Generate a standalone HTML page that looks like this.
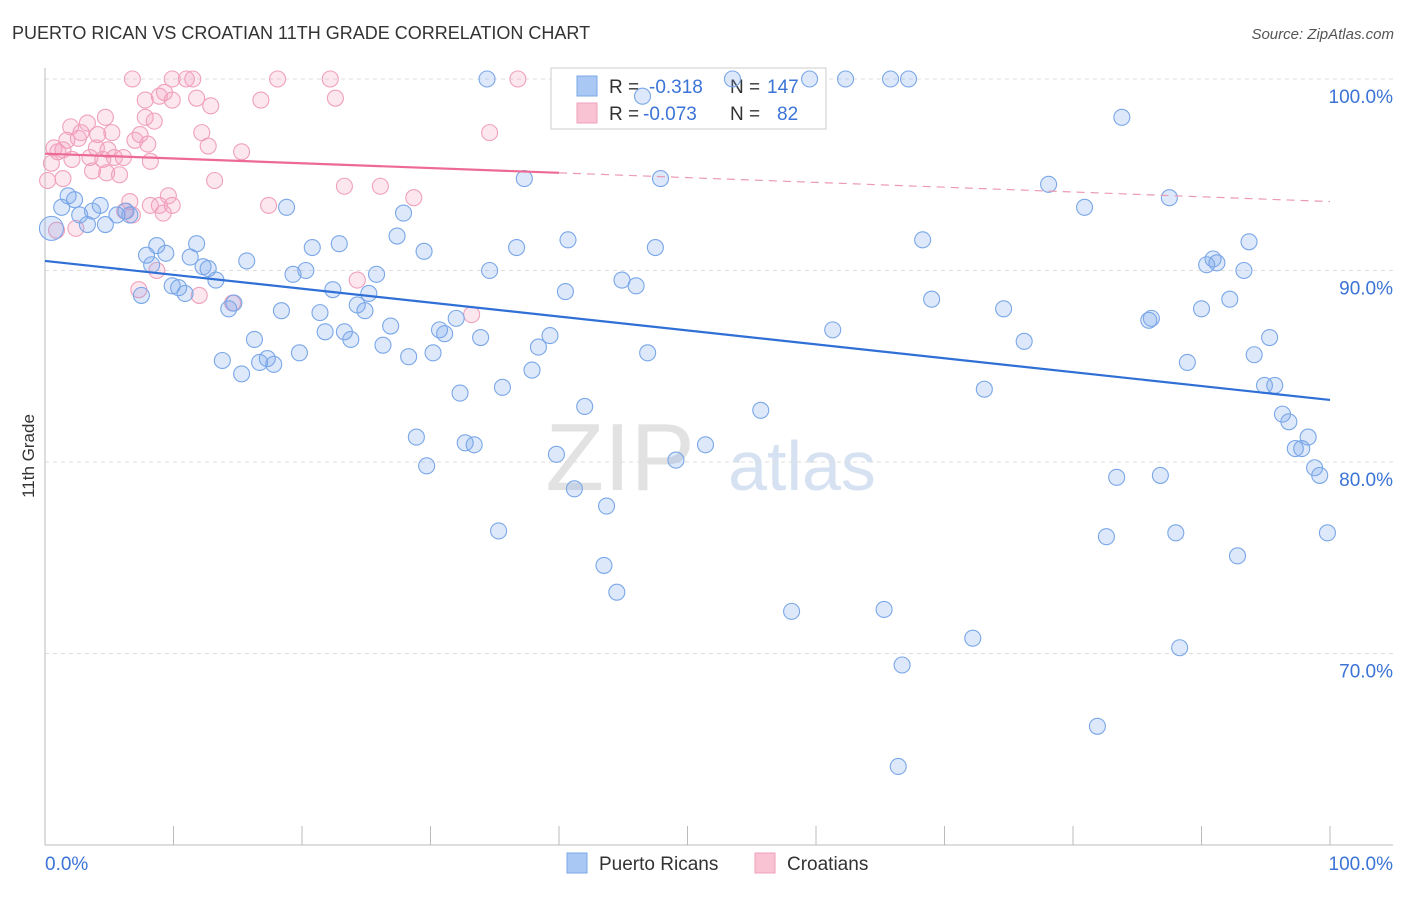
<!DOCTYPE html>
<html><head><meta charset="utf-8">
<style>
body{margin:0;background:#fff;font-family:"Liberation Sans",sans-serif;}
svg text{font-family:"Liberation Sans",sans-serif;}
</style></head>
<body>
<svg id="chart" width="1406" height="892" xmlns="http://www.w3.org/2000/svg">
<text x="12" y="39" font-size="18" fill="#333">PUERTO RICAN VS CROATIAN 11TH GRADE CORRELATION CHART</text>
<text x="1394" y="39" font-size="15" fill="#555" text-anchor="end" font-style="italic">Source: ZipAtlas.com</text>
<text transform="translate(34,456) rotate(-90)" font-size="17" fill="#333" text-anchor="middle">11th Grade</text>
<g>
<text x="620" y="490" font-size="96" fill="#e2e2e2" font-family="Liberation Serif" text-anchor="middle">ZIP</text>
<text x="802" y="490" font-size="70" fill="#d6e2f2" text-anchor="middle">atlas</text>
</g>
<g id="grid"></g>
<g id="axes"></g>
<g>
<rect x="551" y="68" width="275" height="61" fill="#fff" stroke="#ccc"/>
<rect x="577" y="76" width="20" height="20" fill="#aac8f4" stroke="#7aa7e8"/>
<rect x="577" y="103" width="20" height="20" fill="#f9c3d4" stroke="#f0a0bb"/>
<text x="609" y="93" font-size="19" fill="#333">R =</text>
<text x="649" y="93" font-size="19" fill="#3b73d6">-0.318</text>
<text x="730" y="93" font-size="19" fill="#333">N =</text>
<text x="767" y="93" font-size="19" fill="#3b73d6">147</text>
<text x="609" y="120" font-size="19" fill="#333">R =</text>
<text x="643" y="120" font-size="19" fill="#3b73d6">-0.073</text>
<text x="730" y="120" font-size="19" fill="#333">N =</text>
<text x="777" y="120" font-size="19" fill="#3b73d6">82</text>
</g>
<g id="points"></g>
<g id="trends"></g>
<g>
<rect x="567" y="853" width="20" height="20" fill="#aac8f4" stroke="#7aa7e8"/>
<text x="599" y="870" font-size="19" fill="#333">Puerto Ricans</text>
<rect x="755" y="853" width="20" height="20" fill="#f9c3d4" stroke="#f0a0bb"/>
<text x="787" y="870" font-size="19" fill="#333">Croatians</text>
</g>
</svg>
<script>
const yTicks=[100,90,80,70];
const yTickLabels=["100.0%","90.0%","80.0%","70.0%"];
const xTickLabels=["0.0%","100.0%"];
const blueX=[34.4,53.5,59.5,62.3,65.8,67.2,46.5,83.8,37.3,47.9,78.1,80.9,87.5,1.8,2.3,1.3,4.3,3.7,2.7,3.3,4.7,5.6,6.3,6.6,0.5,18.8,27.9,27.4,8.7,11.8,7.9,9.4,11.3,15.7,20.8,22.9,29.5,36.7,40.7,47.5,68.3,93.7,8.3,12.3,12.7,19.3,20.3,25.8,34.6,90.4,90.9,91.2,93.3,13.3,9.9,10.4,10.9,7.5,22.4,25.2,40.5,44.9,46.0,14.3,14.7,18.4,21.4,24.3,24.9,69.0,74.6,90.0,92.2,26.9,21.8,23.3,23.8,30.7,31.1,32.0,33.9,39.3,61.3,85.9,86.1,16.3,19.8,26.3,28.3,30.2,38.4,46.9,76.2,95.3,94.1,13.8,16.7,17.3,17.8,15.3,37.9,88.9,32.3,35.6,73.1,94.9,95.7,42.0,55.7,96.3,96.8,28.9,32.7,33.4,51.4,98.3,97.3,97.8,39.8,49.1,29.7,98.8,99.2,83.4,86.8,41.2,43.7,35.3,82.6,88.0,99.8,92.8,43.5,44.5,58.1,65.3,72.2,88.3,66.7,81.9,66.4];
const blueY=[100,100,100,100,100,100,99.1,98.0,94.8,94.8,94.5,93.3,93.8,93.9,93.7,93.3,93.4,93.1,92.9,92.4,92.4,92.9,93.1,92.9,92.2,93.3,93.0,91.8,91.3,91.4,90.8,90.9,90.7,90.5,91.2,91.4,91.0,91.2,91.6,91.2,91.6,91.5,90.3,90.2,90.1,89.8,90.0,89.8,90.0,90.3,90.6,90.4,90.0,89.5,89.2,89.1,88.8,88.7,89.0,88.8,88.9,89.5,89.2,88.0,88.3,87.9,87.8,88.2,87.9,88.5,88.0,88.0,88.5,87.1,86.8,86.8,86.4,86.9,86.7,87.5,86.5,86.6,86.9,87.4,87.5,86.4,85.7,86.1,85.5,85.7,86.0,85.7,86.3,86.5,85.6,85.3,85.2,85.4,85.1,84.6,84.8,85.2,83.6,83.9,83.8,84.0,84.0,82.9,82.7,82.5,82.1,81.3,81.0,80.9,80.9,81.3,80.7,80.7,80.4,80.1,79.8,79.7,79.3,79.2,79.3,78.6,77.7,76.4,76.1,76.3,76.3,75.1,74.6,73.2,72.2,72.3,70.8,70.3,69.4,66.2,64.1];
const pinkX=[6.8,9.9,11.0,11.5,18.1,22.2,36.8,8.9,9.3,7.8,9.9,11.8,16.8,22.6,12.9,7.8,8.5,4.7,3.3,2.0,12.2,34.6,2.8,4.1,5.2,7.4,2.6,1.7,12.7,7.0,8.0,0.7,1.0,1.4,4.0,4.9,5.4,6.1,15.3,2.1,3.5,4.5,8.2,0.5,3.7,4.8,5.8,0.2,1.4,13.2,23.3,26.1,9.6,28.7,17.4,6.6,8.2,8.9,9.9,6.2,6.8,9.2,2.4,0.9,8.7,24.3,7.3,12.0,14.6,33.2];
const pinkY=[100,100,100,100,100,100,100,99.1,99.3,98.9,98.9,99.0,98.9,99.0,98.6,98.0,97.8,98.0,97.7,97.5,97.2,97.2,97.2,97.1,97.2,97.1,96.9,96.8,96.5,96.8,96.6,96.4,96.2,96.3,96.4,96.3,95.9,95.9,96.2,95.8,95.9,95.8,95.7,95.6,95.2,95.1,95.0,94.7,94.8,94.7,94.4,94.4,93.9,93.8,93.4,93.6,93.4,93.4,93.4,93.1,92.9,93.0,92.2,92.1,90.0,89.5,89.0,88.7,88.3,87.7];
const blueTrend=[90.5,83.24];
const pinkTrend=[96.1,93.6];
const NS="http://www.w3.org/2000/svg";
function sx(v){return 45+v*12.85;}
function sy(v){return 79+(100-v)*19.15;}
function mk(tag,attrs,parent){const e=document.createElementNS(NS,tag);for(const k in attrs)e.setAttribute(k,attrs[k]);parent.appendChild(e);return e;}
const grid=document.getElementById('grid'),axes=document.getElementById('axes'),pts=document.getElementById('points'),tr=document.getElementById('trends');
yTicks.forEach((t,i)=>{
 const l=mk('line',{x1:45,x2:1393,y1:sy(t),y2:sy(t),stroke:'#ddd','stroke-dasharray':'4,4'},grid);
 
 
 const tx=mk('text',{x:1393,y:sy(t)+24,'font-size':19,fill:'#3b73d6','text-anchor':'end'},axes);
 tx.textContent=yTickLabels[i];
 
 
});
const ax=mk('line',{x1:45,x2:1393,y1:845,y2:845,stroke:'#bbb'},axes);


const ay=mk('line',{x1:45,x2:45,y1:68,y2:845,stroke:'#bbb'},axes);


for(let i=0;i<=10;i++){
 const t=mk('line',{x1:sx(i*10),x2:sx(i*10),y1:826,y2:845,stroke:'#bbb'},axes);
 
 
}
const xl0=mk('text',{x:45,y:870,'font-size':19,fill:'#3b73d6'},axes);xl0.textContent=xTickLabels[0];


const xl1=mk('text',{x:1393,y:870,'font-size':19,fill:'#3b73d6','text-anchor':'end'},axes);xl1.textContent=xTickLabels[1];


pinkX.forEach((x,i)=>{
 const c=mk('circle',{cx:sx(x),cy:sy(pinkY[i]),r:8,fill:'rgba(244,160,190,0.25)',stroke:'#f0a0bb','stroke-width':1.1},pts);
 
 
});
blueX.forEach((x,i)=>{
 const c=mk('circle',{cx:sx(x),cy:sy(blueY[i]),r:(i==24?12:8),fill:'rgba(120,165,235,0.25)',stroke:'#7aa7e8','stroke-width':1.1},pts);
 
 
});
const bl=mk('line',{x1:sx(0),y1:sy(blueTrend[0]),x2:sx(100),y2:sy(blueTrend[1]),stroke:'#2f6fd6','stroke-width':2.2},tr);


const pm=pinkTrend[0]+(pinkTrend[1]-pinkTrend[0])*0.4;
const pl=mk('line',{x1:sx(0),y1:sy(pinkTrend[0]),x2:sx(40),y2:sy(pm),stroke:'#ec6a93','stroke-width':2.2},tr);


const pd=mk('line',{x1:sx(40),y1:sy(pm),x2:sx(100),y2:sy(pinkTrend[1]),stroke:'#ec9ab4','stroke-width':1.2,'stroke-dasharray':'8,6'},tr);


</script>
</body></html>
